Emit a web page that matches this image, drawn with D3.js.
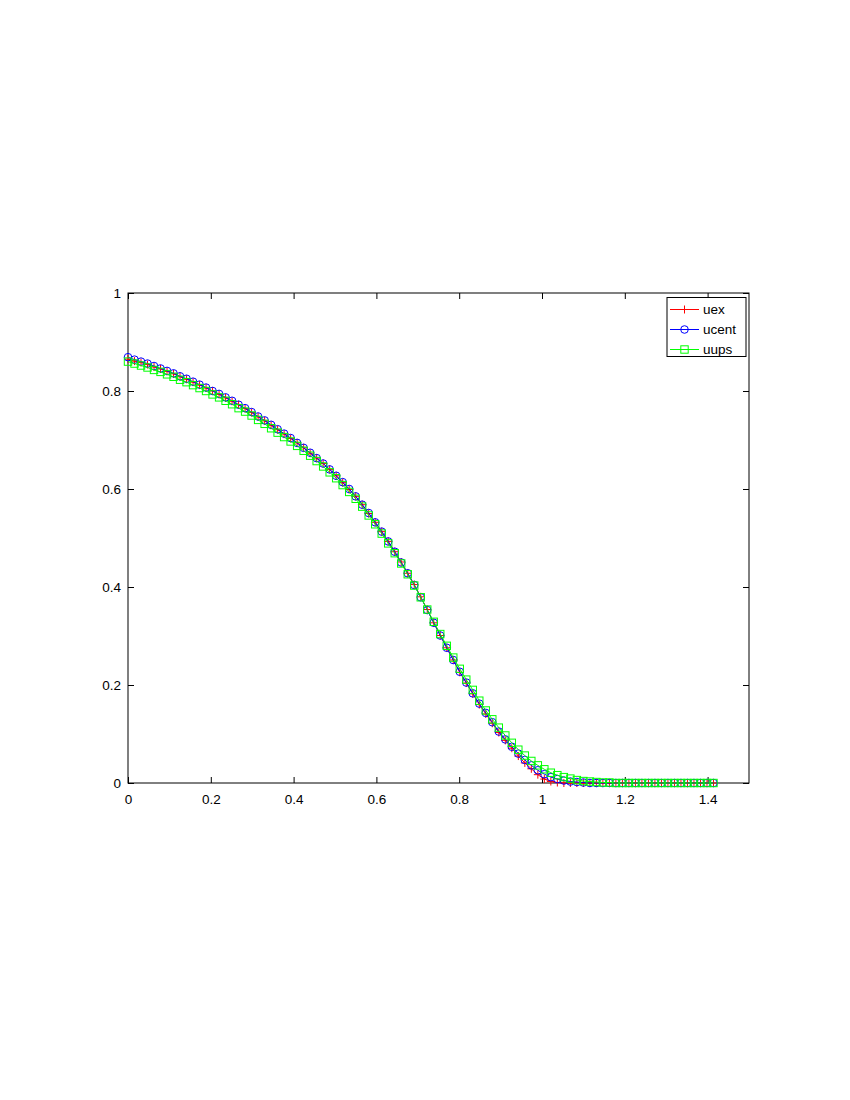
<!DOCTYPE html>
<html>
<head>
<meta charset="utf-8">
<script src="https://cdnjs.cloudflare.com/ajax/libs/d3/7.8.5/d3.min.js"></script>
<style>
  body { margin: 0; background: #fff; }
  svg { display: block; }
  text { font-family: "Liberation Sans", Arial, sans-serif; }
</style>
</head>
<body>
<div id="chart"></div>
<script>
// grid: 91 nodes from 0 to sqrt(2)
var nPts = 91;
var xMax = Math.SQRT2;

var uex = [
  0.865,0.861,0.858,0.854,0.849,0.845,0.840,0.835,0.829,0.824,
  0.818,0.812,0.806,0.800,0.793,0.786,0.779,0.772,0.764,0.756,
  0.747,0.739,0.730,0.721,0.712,0.703,0.694,0.684,0.673,0.663,
  0.652,0.640,0.627,0.613,0.599,0.585,0.568,0.550,0.532,0.513,
  0.493,0.472,0.451,0.428,0.405,0.380,0.354,0.327,0.301,0.276,
  0.251,0.226,0.204,0.182,0.160,0.141,0.122,0.103,0.087,0.071,
  0.055,0.041,0.029,0.017,0.008,0.003,0.001,0,0,0,
  0,0,0,0,0,0,0,0,0,0,
  0,0,0,0,0,0,0,0,0,0,
  0
];

var ucent = [
  0.869,0.864,0.860,0.856,0.851,0.846,0.841,0.836,0.830,0.825,
  0.819,0.813,0.807,0.800,0.794,0.787,0.780,0.772,0.765,0.757,
  0.748,0.740,0.731,0.722,0.713,0.704,0.694,0.684,0.674,0.663,
  0.652,0.640,0.627,0.614,0.600,0.585,0.568,0.551,0.532,0.513,
  0.493,0.472,0.450,0.428,0.404,0.379,0.353,0.327,0.301,0.276,
  0.251,0.227,0.205,0.183,0.162,0.143,0.124,0.105,0.089,0.074,
  0.060,0.047,0.036,0.026,0.018,0.012,0.008,0.005,0.003,0.002,
  0.001,0,0,0,0,0,0,0,0,0,
  0,0,0,0,0,0,0,0,0,0,
  0
];

var uups = [
  0.860,0.856,0.852,0.848,0.843,0.839,0.834,0.829,0.823,0.818,
  0.812,0.806,0.800,0.793,0.787,0.780,0.773,0.765,0.758,0.750,
  0.741,0.733,0.724,0.715,0.706,0.697,0.688,0.678,0.668,0.657,
  0.646,0.634,0.622,0.608,0.594,0.580,0.564,0.546,0.528,0.509,
  0.489,0.469,0.448,0.426,0.403,0.379,0.354,0.329,0.304,0.280,
  0.256,0.233,0.211,0.190,0.168,0.148,0.130,0.113,0.097,0.082,
  0.068,0.056,0.045,0.036,0.028,0.021,0.016,0.012,0.009,0.006,
  0.004,0.003,0.002,0.001,0.001,0,0,0,0,0,
  0,0,0,0,0,0,0,0,0,0,
  0
];

var seriesNames = ["uex", "ucent", "uups"];
var seriesColors = ["#ff0000", "#0000ff", "#00ff00"];
var seriesMarkers = ["plus", "circle", "square"];
var xTicks = [0, 0.2, 0.4, 0.6, 0.8, 1, 1.2, 1.4];
var yTicks = [0, 0.2, 0.4, 0.6, 0.8, 1];

var width = 850, height = 1100;
var box = { left: 128, right: 749, top: 293, bottom: 783 };

var svg = d3.select("#chart").append("svg")
    .attr("width", width)
    .attr("height", height);

var x = d3.scaleLinear().domain([0, 1.5]).range([box.left, box.right]);
var y = d3.scaleLinear().domain([0, 1]).range([box.bottom, box.top]);

var xs = d3.range(nPts).map(function(i){ return i * xMax / (nPts - 1); });
var allSeries = [uex, ucent, uups];

var fmt = function(d){ return String(+d.toFixed(1)); };

// axes, ticks pointing inward
var gBottom = svg.append("g").attr("transform", "translate(0," + box.bottom + ")")
    .call(d3.axisBottom(x).tickValues(xTicks).tickSizeInner(-6).tickSizeOuter(0).tickPadding(11).tickFormat(fmt));
var gTop = svg.append("g").attr("transform", "translate(0," + box.top + ")")
    .call(d3.axisTop(x).tickValues(xTicks).tickSizeInner(-6).tickSizeOuter(0).tickFormat(""));
var gLeft = svg.append("g").attr("transform", "translate(" + box.left + ",0)")
    .call(d3.axisLeft(y).tickValues(yTicks).tickSizeInner(-6).tickSizeOuter(0).tickPadding(7).tickFormat(fmt));
var gRight = svg.append("g").attr("transform", "translate(" + box.right + ",0)")
    .call(d3.axisRight(y).tickValues(yTicks).tickSizeInner(-6).tickSizeOuter(0).tickFormat(""));

[gBottom, gTop, gLeft, gRight].forEach(function(g){
    g.select(".domain").remove();
    g.selectAll(".tick line").attr("stroke", "#000").attr("stroke-width", 1);
    g.selectAll(".tick text").attr("font-size", "13.5px").attr("fill", "#000")
        .style("font-family", "'Liberation Sans', Arial, sans-serif");
});

svg.append("rect")
    .attr("x", box.left).attr("y", box.top)
    .attr("width", box.right - box.left).attr("height", box.bottom - box.top)
    .attr("fill", "none").attr("stroke", "#000").attr("stroke-width", 1);

function drawMarker(g, kind, cx, cy, color){
    if(kind === "plus"){
        g.append("path")
            .attr("d", "M" + (cx - 4) + "," + cy + "H" + (cx + 4) + "M" + cx + "," + (cy - 4) + "V" + (cy + 4))
            .attr("stroke", color).attr("stroke-width", 1).attr("fill", "none");
    } else if(kind === "circle"){
        g.append("circle").attr("cx", cx).attr("cy", cy).attr("r", 3.8)
            .attr("stroke", color).attr("stroke-width", 1).attr("fill", "none");
    } else {
        g.append("rect").attr("x", cx - 3.7).attr("y", cy - 3.7)
            .attr("width", 7.4).attr("height", 7.4)
            .attr("stroke", color).attr("stroke-width", 1).attr("fill", "none");
    }
}

var line = d3.line()
    .x(function(d){ return x(d[0]); })
    .y(function(d){ return y(d[1]); });

allSeries.forEach(function(vals, s){
    var pts = xs.map(function(xv, i){ return [xv, vals[i]]; });
    var g = svg.append("g").attr("class", "series-" + seriesNames[s]);
    g.append("path")
        .datum(pts)
        .attr("d", line)
        .attr("fill", "none")
        .attr("stroke", seriesColors[s])
        .attr("stroke-width", 1);
    pts.forEach(function(p){
        drawMarker(g, seriesMarkers[s], x(p[0]), y(p[1]), seriesColors[s]);
    });
});

// legend
var legend = svg.append("g");
legend.append("rect")
    .attr("x", 667).attr("y", 297.5)
    .attr("width", 79).attr("height", 59)
    .attr("fill", "#fff").attr("stroke", "#000").attr("stroke-width", 1);

seriesNames.forEach(function(name, s){
    var ly = 309.5 + s * 20;
    legend.append("line")
        .attr("x1", 670).attr("x2", 699)
        .attr("y1", ly).attr("y2", ly)
        .attr("stroke", seriesColors[s]).attr("stroke-width", 1);
    drawMarker(legend, seriesMarkers[s], 684.5, ly, seriesColors[s]);
    legend.append("text")
        .attr("x", 703).attr("y", ly + 4.5)
        .attr("font-size", "13.5px")
        .attr("fill", "#000")
        .text(name);
});
</script>
</body>
</html>
